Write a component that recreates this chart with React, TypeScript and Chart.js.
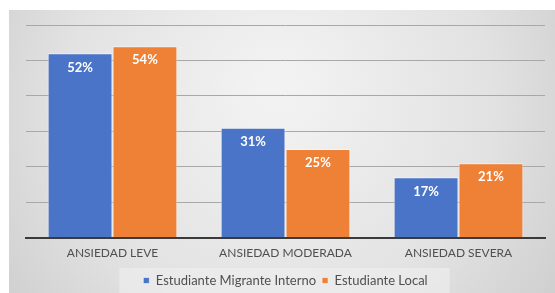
import React, { useEffect, useRef } from "react";
import { Chart, registerables } from "chart.js";

Chart.register(...registerables);

const categories = ["ANSIEDAD LEVE", "ANSIEDAD MODERADA", "ANSIEDAD SEVERA"];
const seriesNames = ["Estudiante Migrante Interno", "Estudiante Local"];
const migrante = [52, 31, 17];
const local = [54, 25, 21];
const yMax = 60;
const yStep = 10;

const FONT = "Lato, 'Open Sans', sans-serif";

const panelPlugin = {
  id: "panelBg",
  beforeDraw(chart: any) {
    const { ctx, width, height } = chart;
    ctx.save();
    ctx.fillStyle = "#ffffff";
    ctx.fillRect(0, 0, width, height);
    const x0 = 9, y0 = 10;
    const g = ctx.createRadialGradient(width * 0.5, height * 0.3, 20, width * 0.5, height * 0.4, width * 0.62);
    g.addColorStop(0, "#f2f2f2");
    g.addColorStop(0.6, "#e2e2e2");
    g.addColorStop(1, "#cdcdcd");
    ctx.fillStyle = g;
    ctx.fillRect(x0, y0, width - x0, height - y0);
    const lg = chart.legend;
    if (lg && lg.legendHitBoxes && lg.legendHitBoxes.length) {
      const hb = lg.legendHitBoxes;
      const l = hb[0].left - 24;
      const r = hb[hb.length - 1].left + hb[hb.length - 1].width + 22;
      const t = hb[0].top - 6;
      const b = hb[0].top + hb[0].height + 6;
      ctx.fillStyle = "rgba(240,240,240,0.55)";
      ctx.fillRect(l, t, r - l, b - t);
    }
    ctx.restore();
  },
};

const valueLabelPlugin = {
  id: "valueLabels",
  afterDatasetsDraw(chart: any) {
    const { ctx } = chart;
    ctx.save();
    ctx.fillStyle = "#ffffff";
    ctx.font = "bold 13px " + FONT;
    ctx.textAlign = "center";
    ctx.textBaseline = "middle";
    chart.data.datasets.forEach((ds: any, i: number) => {
      const meta = chart.getDatasetMeta(i);
      meta.data.forEach((bar: any, j: number) => {
        ctx.fillText(ds.data[j] + "%", bar.x, bar.y + 14);
      });
    });
    ctx.restore();
  },
};

export default function App() {
  const ref = useRef<HTMLCanvasElement>(null);
  useEffect(() => {
    document.body.style.margin = "0";
    document.body.style.overflow = "hidden";
    const chart = new Chart(ref.current!, {
      type: "bar",
      data: {
        labels: categories,
        datasets: [
          {
            label: seriesNames[0],
            data: migrante,
            backgroundColor: "#4A74C8",
            borderColor: "rgba(255,255,255,0.55)",
            borderWidth: 1,
          },
          {
            label: seriesNames[1],
            data: local,
            backgroundColor: "#EE8136",
            borderColor: "rgba(255,255,255,0.55)",
            borderWidth: 1,
          },
        ],
      },
      options: {
        animation: false,
        responsive: false,
        maintainAspectRatio: false,
        events: [],
        layout: { padding: { left: 26, right: 10, top: 25, bottom: -4 } },
        datasets: { bar: { categoryPercentage: 0.75, barPercentage: 1 } },
        scales: {
          x: {
            grid: { display: false, drawTicks: false },
            border: { display: true, color: "#3a3a3a", width: 2 },
            ticks: { color: "#505050", font: { family: FONT, size: 12 }, padding: 8 },
          },
          y: {
            min: 0,
            max: yMax,
            ticks: { display: false, stepSize: yStep },
            grid: { color: "#a8a8a8", lineWidth: 1, drawTicks: false },
            border: { display: false },
          },
        },
        plugins: {
          legend: {
            position: "bottom",
            labels: {
              boxWidth: 6,
              boxHeight: 6,
              color: "#505050",
              font: { family: FONT, size: 13 },
              padding: 6,
            },
          },
          tooltip: { enabled: false },
        },
      },
      plugins: [panelPlugin, valueLabelPlugin],
    });
    return () => chart.destroy();
  }, []);
  return (
    <div style={{ width: 555, height: 293 }}>
      <canvas ref={ref} width={555} height={293} style={{ display: "block" }} />
    </div>
  );
}
